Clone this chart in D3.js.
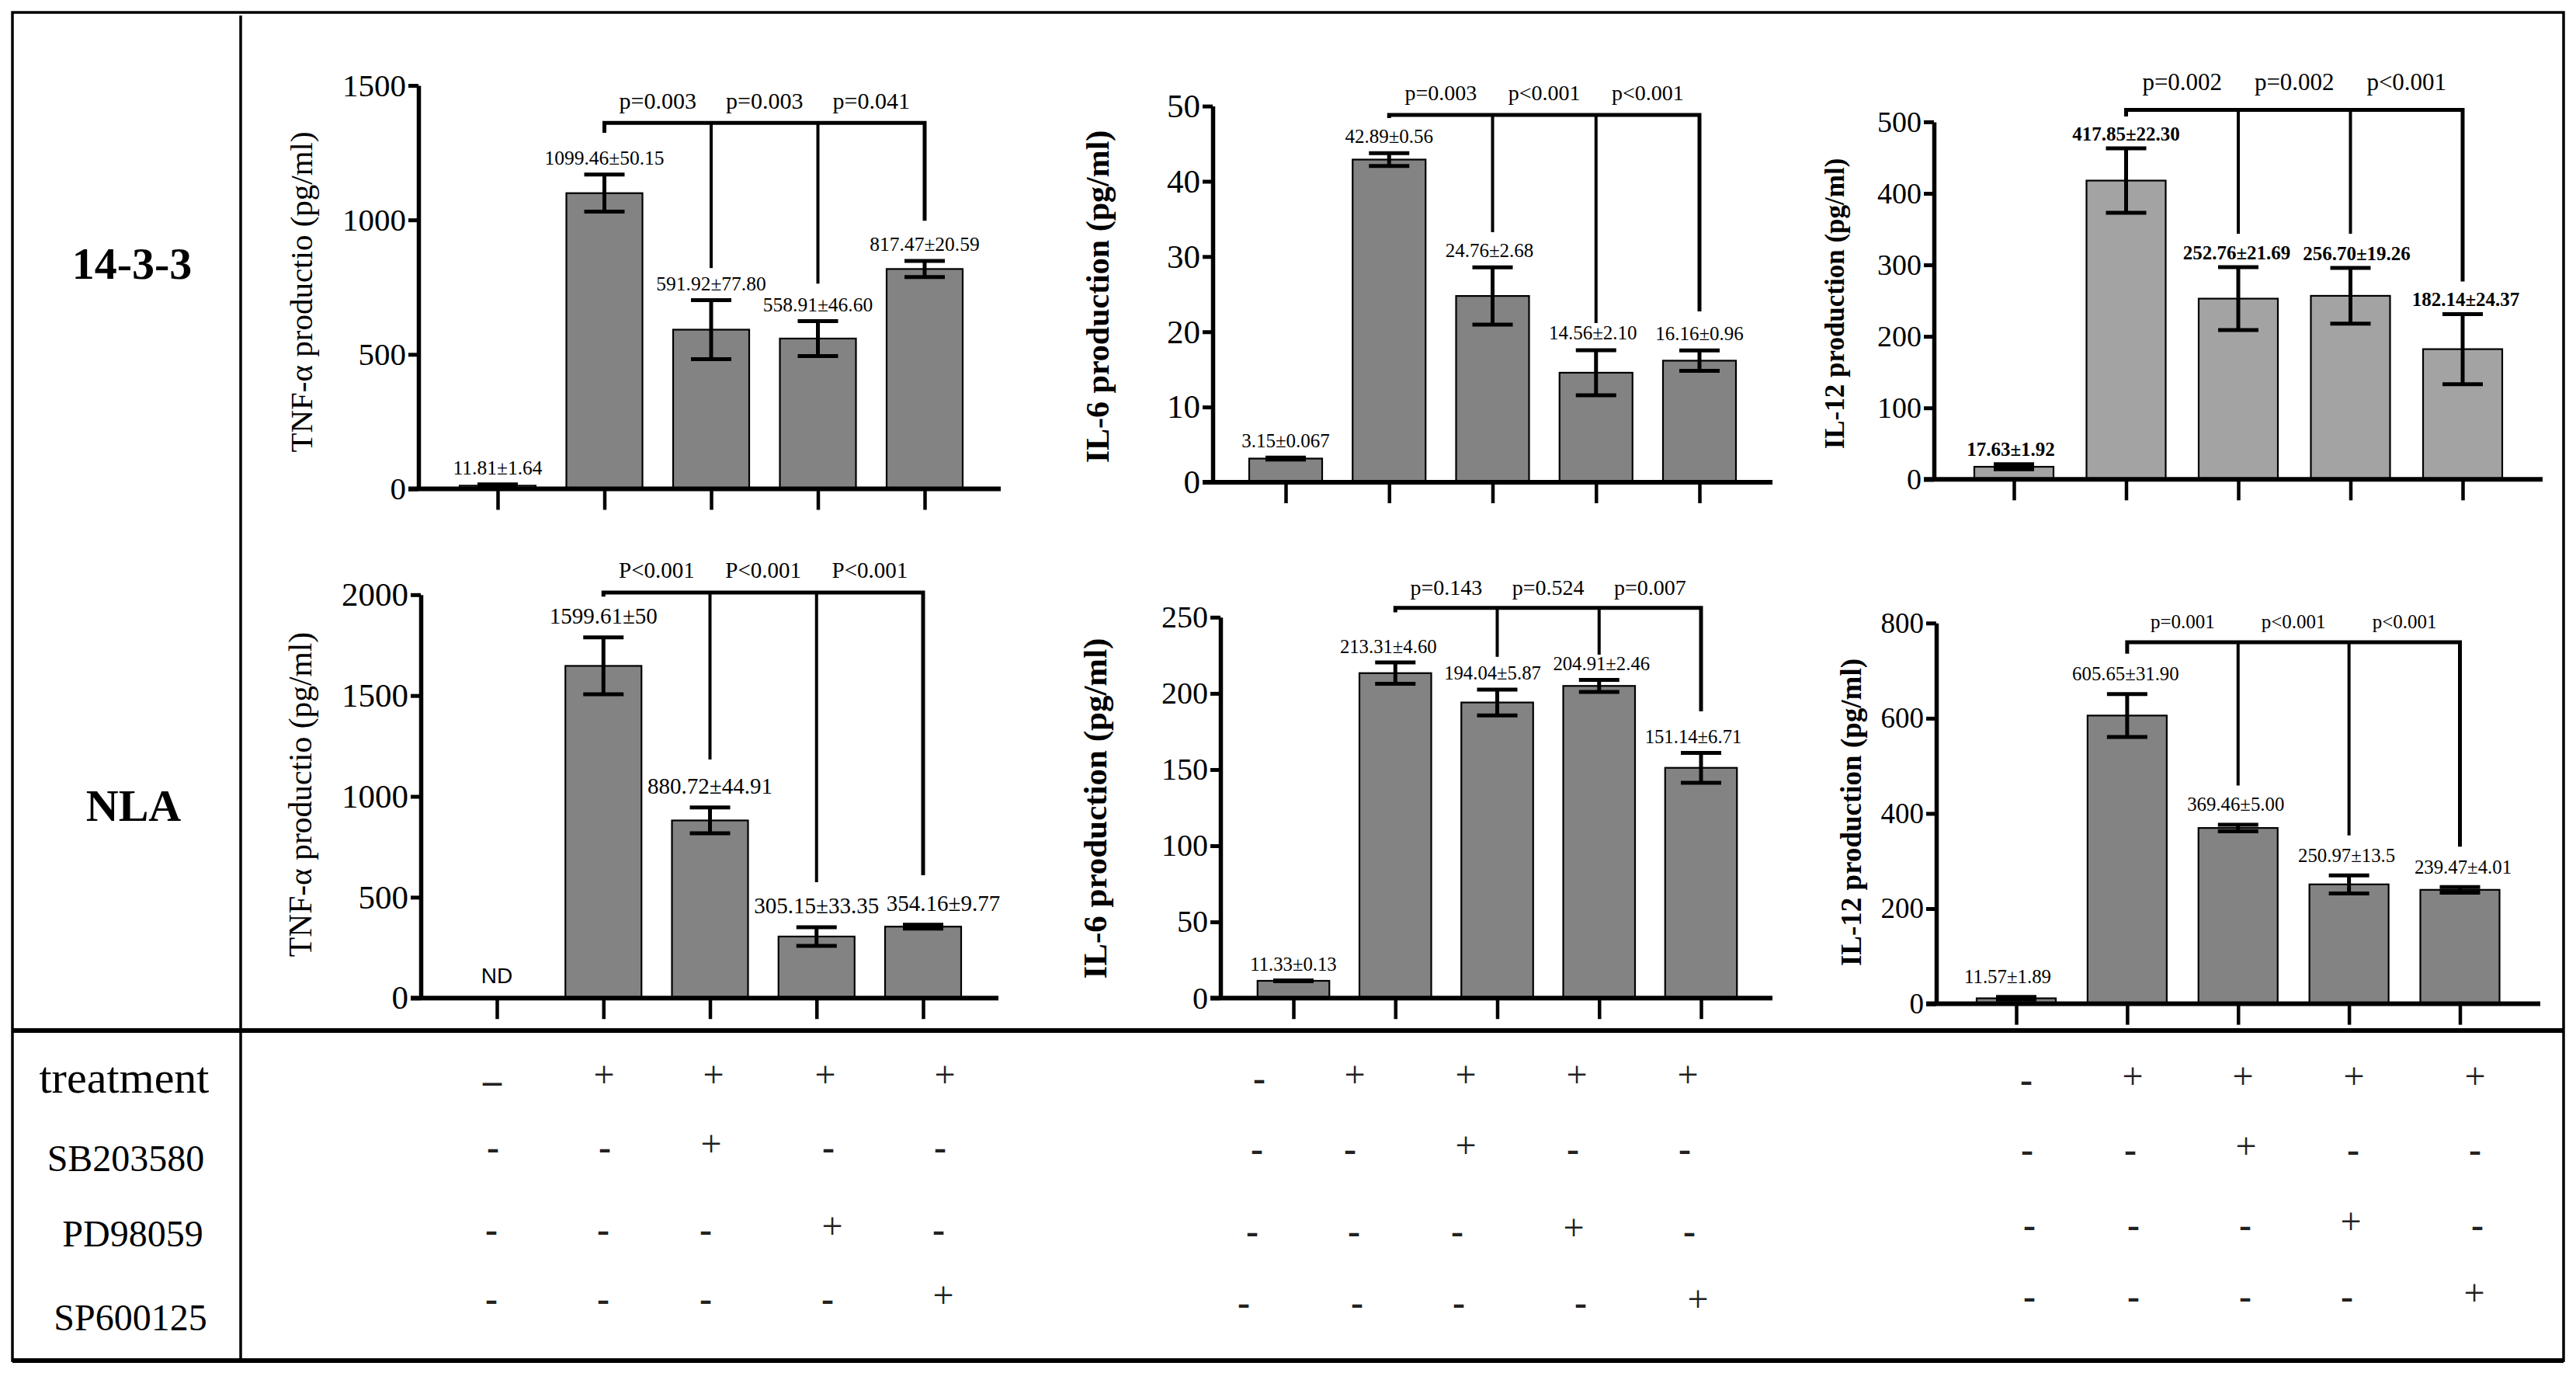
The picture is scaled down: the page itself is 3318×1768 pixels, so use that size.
<!DOCTYPE html>
<html><head><meta charset="utf-8">
<script src="https://cdn.jsdelivr.net/npm/d3@7/dist/d3.min.js"></script>
<style>body{margin:0;background:#fff}svg{display:block}</style>
</head><body>
<svg id="c" width="3318" height="1768"></svg>
<script>
// ---------------- DATA ----------------
const rowLabels = ["14-3-3", "NLA"];
const tableRows = ["treatment", "SB203580", "PD98059", "SP600125"];
const treatmentSigns = [["–","+","+","+","+"], ["-","+","+","+","+"], ["-","+","+","+","+"]];
const sbSigns = ["-","-","+","-","-"];
const pdSigns = ["-","-","-","+","-"];
const spSigns = ["-","-","-","-","+"];

// 14-3-3 row
const tnf1433 = [11.81, 1099.46, 591.92, 558.91, 817.47];
const tnf1433Err = [5, 69, 110, 65, 30];
const tnf1433Lbl = ["11.81±1.64","1099.46±50.15","591.92±77.80","558.91±46.60","817.47±20.59"];
const tnf1433P = ["p=0.003","p=0.003","p=0.041"];
const tnf1433Ticks = [0, 500, 1000, 1500];
const tnf1433Br = {level: 1361, left: 1324, drops: [821, 763, 997], pAt: 1445};

const il6_1433 = [3.15, 42.89, 24.76, 14.56, 16.16];
const il6_1433Err = [0.12, 0.85, 3.8, 3.0, 1.35];
const il6_1433Lbl = ["3.15±0.067","42.89±0.56","24.76±2.68","14.56±2.10","16.16±0.96"];
const il6_1433P = ["p=0.003","p<0.001","p<0.001"];
const il6_1433Ticks = [0, 10, 20, 30, 40, 50];
const il6_1433Br = {level: 48.82, left: 48.4, drops: [33.24, 21.16, 22.7], pAt: 51.8};

const il12_1433 = [17.63, 417.85, 252.76, 256.70, 182.14];
const il12_1433Err = [3.5, 45, 44, 39, 49];
const il12_1433Lbl = ["17.63±1.92","417.85±22.30","252.76±21.69","256.70±19.26","182.14±24.37"];
const il12_1433P = ["p=0.002","p=0.002","p<0.001"];
const il12_1433Ticks = [0, 100, 200, 300, 400, 500];
const il12_1433Br = {level: 516.6, left: 507.5, drops: [343.5, 343.5, 276.6], pAt: 555.3};

// NLA row
const tnfNLA = [null, 1647, 880.72, 305.15, 354.16];
const tnfNLAErr = [0, 141, 64, 46, 10];
const tnfNLALbl = ["ND","1599.61±50","880.72±44.91","305.15±33.35","354.16±9.77"];
const tnfNLAP = ["P<0.001","P<0.001","P<0.001"];
const tnfNLATicks = [0, 500, 1000, 1500, 2000];
const tnfNLABr = {level: 2011, left: 1991, drops: [1183, 574.5, 609], pAt: 2122};

const il6NLA = [11.33, 213.31, 194.04, 204.91, 151.14];
const il6NLAErr = [0.3, 7, 8.5, 3.9, 9.8];
const il6NLALbl = ["11.33±0.13","213.31±4.60","194.04±5.87","204.91±2.46","151.14±6.71"];
const il6NLAP = ["p=0.143","p=0.524","p=0.007"];
const il6NLATicks = [0, 50, 100, 150, 200, 250];
const il6NLABr = {level: 256.1, left: 253.2, drops: [224, 225.4, 188.2], pAt: 269.4};

const il12NLA = [11.57, 605.65, 369.46, 250.97, 239.47];
const il12NLAErr = [3, 45, 7, 19, 6];
const il12NLALbl = ["11.57±1.89","605.65±31.90","369.46±5.00","250.97±13.5","239.47±4.01"];
const il12NLAP = ["p=0.001","p<0.001","p<0.001"];
const il12NLATicks = [0, 200, 400, 600, 800];
const il12NLABr = {level: 759.7, left: 735.7, drops: [458.5, 353.7, 330], pAt: 803.7};

// ---------------- LAYOUT ----------------
const SERIF = "'Liberation Serif','Times New Roman',serif";
const SANS = "'Liberation Sans',Arial,sans-serif";

const panels = [
  {v: tnf1433, e: tnf1433Err, lbl: tnf1433Lbl, p: tnf1433P, ticks: tnf1433Ticks, br: tnf1433Br,
   title: "TNF-α productio (pg/ml)", ax: 539, xEnd: 1289, y0: 629.5, yTop: 110, c0: 641, c4: 1191, bw: 98,
   tickFs: 41, tx: 388, ty: 376, tFs: 41, tW: "normal", lFs: 25.5, lW: "normal", gap: 21, pFs: 30, fill: "#838383", shift: [0,0,0,0,0]},
  {v: il6_1433, e: il6_1433Err, lbl: il6_1433Lbl, p: il6_1433P, ticks: il6_1433Ticks, br: il6_1433Br,
   title: "IL-6 production (pg/ml)", ax: 1562, xEnd: 2283, y0: 621, yTop: 136.6, c0: 1656, c4: 2189, bw: 94,
   tickFs: 43, tx: 1414, ty: 382, tFs: 42, tW: "bold", lFs: 25, lW: "normal", gap: 22, pFs: 28, fill: "#838383", shift: [0,0,-4,-4,0]},
  {v: il12_1433, e: il12_1433Err, lbl: il12_1433Lbl, p: il12_1433P, ticks: il12_1433Ticks, br: il12_1433Br,
   title: "IL-12 production (pg/ml)", ax: 2491, xEnd: 3275, y0: 617.3, yTop: 156.9, c0: 2594, c4: 3172, bw: 102,
   tickFs: 38, tx: 2363, ty: 391, tFs: 35, tW: "bold", lFs: 25, lW: "bold", gap: 19, pFs: 31, fill: "#a3a3a3", shift: [-4,0,-2,8,4]},
  {v: tnfNLA, e: tnfNLAErr, lbl: tnfNLALbl, p: tnfNLAP, ticks: tnfNLATicks, br: tnfNLABr,
   title: "TNF-α productio (pg/ml)", ax: 542, xEnd: 1286, y0: 1285.2, yTop: 765.8, c0: 640, c4: 1189, bw: 98,
   tickFs: 43, tx: 387, ty: 1023, tFs: 41.5, tW: "normal", lFs: 29, lW: "normal", gap: 28, pFs: 29, fill: "#838383", shift: [0,0,0,0,26]},
  {v: il6NLA, e: il6NLAErr, lbl: il6NLALbl, p: il6NLAP, ticks: il6NLATicks, br: il6NLABr,
   title: "IL-6 production (pg/ml)", ax: 1572, xEnd: 2283, y0: 1285.2, yTop: 794.8, c0: 1666, c4: 2191, bw: 92.5,
   tickFs: 40, tx: 1410, ty: 1041, tFs: 43, tW: "bold", lFs: 24.7, lW: "normal", gap: 21, pFs: 28, fill: "#838383", shift: [0,-9,-6,3,-10]},
  {v: il12NLA, e: il12NLAErr, lbl: il12NLALbl, p: il12NLAP, ticks: il12NLATicks, br: il12NLABr,
   title: "IL-12 production (pg/ml)", ax: 2494, xEnd: 3272, y0: 1292.6, yTop: 802.3, c0: 2597, c4: 3168.5, bw: 102,
   tickFs: 37, tx: 2384, ty: 1046, tFs: 37, tW: "bold", lFs: 24.8, lW: "normal", gap: 26, pFs: 25, fill: "#838383", shift: [-11,-2,-3,-3,4]}
];

const svg = d3.select("#c");
svg.append("rect").attr("width", 3318).attr("height", 1768).attr("fill", "#fff");

panels.forEach(P => {
  const g = svg.append("g");
  const y = d3.scaleLinear().domain([0, d3.max(P.ticks)]).range([P.y0, P.yTop]);
  const x = d3.scalePoint().domain(d3.range(P.v.length)).range([P.c0, P.c4]);

  // bars
  P.v.forEach((v, i) => {
    if (v === null) return;
    g.append("rect").attr("x", x(i) - P.bw / 2).attr("y", y(v))
      .attr("width", P.bw).attr("height", y(0) - y(v))
      .attr("fill", P.fill).attr("stroke", "#000").attr("stroke-width", 2.2);
  });
  // error bars
  P.v.forEach((v, i) => {
    if (v === null) return;
    const e = P.e[i], cx = x(i), cw = 26;
    const eb = g.append("g").attr("stroke", "#000").attr("stroke-width", 5).attr("fill", "none");
    eb.append("line").attr("x1", cx).attr("x2", cx).attr("y1", y(v - e)).attr("y2", y(v + e));
    eb.append("line").attr("x1", cx - cw).attr("x2", cx + cw).attr("y1", y(v + e)).attr("y2", y(v + e));
    eb.append("line").attr("x1", cx - cw).attr("x2", cx + cw).attr("y1", y(v - e)).attr("y2", y(v - e));
  });

  // y axis
  const ya = g.append("g").attr("transform", `translate(${P.ax},0)`)
    .call(d3.axisLeft(y).tickValues(P.ticks).tickSize(13).tickSizeOuter(0).tickPadding(3).tickFormat(d3.format("d")));
  ya.select(".domain").attr("stroke-width", 5.5);
  ya.selectAll(".tick line").attr("stroke-width", 5);
  ya.selectAll(".tick text").attr("font-family", SERIF).attr("font-size", P.tickFs).attr("fill", "#000");

  // x axis baseline + ticks under bars
  g.append("line").attr("x1", P.ax - 13).attr("x2", P.xEnd).attr("y1", P.y0).attr("y2", P.y0)
    .attr("stroke", "#000").attr("stroke-width", 6);
  const xa = g.append("g").attr("transform", `translate(0,${P.y0})`)
    .call(d3.axisBottom(x).tickSize(27).tickFormat(""));
  xa.select(".domain").remove();
  xa.selectAll(".tick line").attr("stroke-width", 4.5);

  // y title
  g.append("text").attr("transform", `translate(${P.tx},${P.ty}) rotate(-90)`)
    .attr("text-anchor", "middle").attr("dominant-baseline", "central")
    .attr("font-family", SERIF).attr("font-size", P.tFs).attr("font-weight", P.tW).text(P.title);

  // value labels
  P.v.forEach((v, i) => {
    if (v === null) {
      g.append("text").attr("x", x(i)).attr("y", y(0) - 29)
        .attr("text-anchor", "middle").attr("dominant-baseline", "central")
        .attr("font-family", SANS).attr("font-size", 28).text(P.lbl[i]);
      return;
    }
    g.append("text").attr("x", x(i) + P.shift[i]).attr("y", y(v + P.e[i]) - P.gap)
      .attr("text-anchor", "middle").attr("dominant-baseline", "central")
      .attr("font-family", SERIF).attr("font-size", P.lFs).attr("font-weight", P.lW).text(P.lbl[i]);
  });

  // significance bracket
  const br = P.br;
  g.append("path")
    .attr("d", `M${x(1)},${y(br.left)}V${y(br.level)}H${x(4)}V${y(br.drops[2])}`)
    .attr("fill", "none").attr("stroke", "#000").attr("stroke-width", 5);
  [2, 3].forEach((j, k) => {
    g.append("line").attr("x1", x(j)).attr("x2", x(j)).attr("y1", y(br.level)).attr("y2", y(br.drops[k]))
      .attr("stroke", "#000").attr("stroke-width", 4);
  });
  P.p.forEach((t, k) => {
    g.append("text").attr("x", (x(k + 1) + x(k + 2)) / 2).attr("y", y(br.pAt))
      .attr("text-anchor", "middle").attr("dominant-baseline", "central")
      .attr("font-family", SERIF).attr("font-size", P.pFs).text(t);
  });
});

// ---------------- FRAME ----------------
const frame = svg.append("g").attr("stroke", "#000").attr("fill", "none");
frame.append("rect").attr("x", 16).attr("y", 16).attr("width", 3286).attr("height", 1736).attr("stroke-width", 3.5);
frame.append("line").attr("x1", 310).attr("x2", 310).attr("y1", 20).attr("y2", 1752).attr("stroke-width", 3.5);
frame.append("line").attr("x1", 16).attr("x2", 3302).attr("y1", 1327).attr("y2", 1327).attr("stroke-width", 6);
frame.append("line").attr("x1", 16).attr("x2", 3302).attr("y1", 1752).attr("y2", 1752).attr("stroke-width", 6);

// row labels
[[170, 339], [172, 1037]].forEach((pos, i) => {
  svg.append("text").attr("x", pos[0]).attr("y", pos[1])
    .attr("text-anchor", "middle").attr("dominant-baseline", "central")
    .attr("font-family", SERIF).attr("font-size", 58).attr("font-weight", "bold").text(rowLabels[i]);
});

// ---------------- TABLE ----------------
const labelPos = [[160, 1407, 58], [162, 1508, 48], [171, 1605, 48], [168, 1713, 48]];
tableRows.forEach((t, i) => {
  svg.append("text").attr("x", labelPos[i][0]).attr("y", labelPos[i][1])
    .attr("text-anchor", "middle").attr("font-family", SERIF).attr("font-size", labelPos[i][2]).text(t);
});

const groupX = [
  [[634,778,919,1063,1217],[635,779,916,1067,1211],[633,777,909,1072,1209],[633,777,909,1066,1215]],
  [[1622,1745,1888,2031,2174],[1619,1739,1888,2026,2170],[1613,1744,1877,2027,2176],[1602,1748,1879,2036,2187]],
  [[2610,2747,2889,3032,3188],[2611,2744,2893,3031,3188],[2614,2748,2892,3028,3191],[2614,2748,2892,3023,3187]]
];
const groupBase = [[1400,1489,1595,1684],[1400,1491,1597,1689],[1402,1492,1589,1681]];

groupX.forEach((gx, gi) => {
  const rows = [treatmentSigns[gi], sbSigns, pdSigns, spSigns];
  rows.forEach((signs, r) => {
    signs.forEach((s, c) => {
      const isPlus = s === "+";
      svg.append("text").attr("x", gx[r][c]).attr("y", groupBase[gi][r] + (isPlus ? 0 : (s === "–" ? 8 : 4)))
        .attr("text-anchor", "middle").attr("font-family", SERIF)
        .attr("font-size", 48).attr("font-weight", isPlus ? "normal" : "bold")
        .attr("fill", "#222").text(s);
    });
  });
});
</script>
</body></html>
